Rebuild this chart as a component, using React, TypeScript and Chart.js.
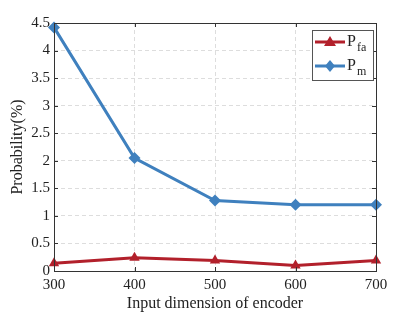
import React, { useEffect, useRef } from "react";
import { Chart, registerables } from "chart.js";

Chart.register(...registerables);

const categories = ["300", "400", "500", "600", "700"];
const pfaValues = [0.14, 0.24, 0.19, 0.1, 0.19];
const pmValues = [4.42, 2.05, 1.28, 1.2, 1.2];
const yTicks = [0, 0.5, 1, 1.5, 2, 2.5, 3, 3.5, 4, 4.5];

const RED = "#B2202B";
const BLUE = "#3F80BE";
const FONT = "'Liberation Serif', 'DejaVu Serif', serif";

const framePlugin = {
  id: "frame",
  afterDraw(chart: any) {
    const { ctx, chartArea: a, scales } = chart;
    ctx.save();
    ctx.strokeStyle = "#333333";
    ctx.lineWidth = 1;
    ctx.strokeRect(a.left + 0.5, a.top + 0.5, a.right - a.left, a.bottom - a.top);
    const tl = 4;
    ctx.beginPath();
    for (const v of yTicks) {
      const y = Math.round(scales.y.getPixelForValue(v)) + 0.5;
      ctx.moveTo(a.left, y);
      ctx.lineTo(a.left + tl, y);
      ctx.moveTo(a.right, y);
      ctx.lineTo(a.right - tl, y);
    }
    for (let i = 0; i < categories.length; i++) {
      const x = Math.round(scales.x.getPixelForValue(i)) + 0.5;
      ctx.moveTo(x, a.bottom);
      ctx.lineTo(x, a.bottom - tl);
      ctx.moveTo(x, a.top);
      ctx.lineTo(x, a.top + tl);
    }
    ctx.stroke();

    // legend
    const bx = 312, by = 30, bw = 61, bh = 50;
    ctx.fillStyle = "#ffffff";
    ctx.fillRect(bx, by, bw, bh);
    ctx.strokeStyle = "#555555";
    ctx.strokeRect(bx + 0.5, by + 0.5, bw, bh);
    const rows = [
      { color: RED, sub: "fa", style: "triangle", y: 42 },
      { color: BLUE, sub: "m", style: "diamond", y: 66 },
    ];
    for (const r of rows) {
      ctx.strokeStyle = r.color;
      ctx.lineWidth = 3;
      ctx.beginPath();
      ctx.moveTo(315, r.y);
      ctx.lineTo(345, r.y);
      ctx.stroke();
      ctx.fillStyle = r.color;
      ctx.beginPath();
      const cx = 330;
      if (r.style === "triangle") {
        ctx.moveTo(cx, r.y - 6);
        ctx.lineTo(cx + 6, r.y + 4);
        ctx.lineTo(cx - 6, r.y + 4);
      } else {
        ctx.moveTo(cx, r.y - 6);
        ctx.lineTo(cx + 5, r.y);
        ctx.lineTo(cx, r.y + 6);
        ctx.lineTo(cx - 5, r.y);
      }
      ctx.closePath();
      ctx.fill();
      ctx.fillStyle = "#222222";
      ctx.textBaseline = "alphabetic";
      ctx.textAlign = "left";
      ctx.font = `16px ${FONT}`;
      ctx.fillText("P", 347, r.y + 4);
      ctx.font = `12px ${FONT}`;
      ctx.fillText(r.sub, 357, r.y + 9);
    }
    ctx.restore();
  },
};

export default function App() {
  const ref = useRef<HTMLCanvasElement>(null);
  useEffect(() => {
    document.body.style.margin = "0";
    const chart = new Chart(ref.current!, {
      type: "line",
      data: {
        labels: categories,
        datasets: [
          {
            label: "Pfa",
            data: pfaValues,
            borderColor: RED,
            backgroundColor: RED,
            borderWidth: 3,
            pointStyle: "triangle",
            pointRadius: 6,
            pointBorderWidth: 0,
            tension: 0,
            clip: false as any,
          },
          {
            label: "Pm",
            data: pmValues,
            borderColor: BLUE,
            backgroundColor: BLUE,
            borderWidth: 3,
            pointStyle: "rectRot",
            pointRadius: 6,
            pointBorderWidth: 0,
            tension: 0,
            clip: false as any,
          },
        ],
      },
      options: {
        animation: false,
        responsive: false,
        layout: { padding: { left: 0, right: 39, top: 23, bottom: 0 } },
        plugins: { legend: { display: false }, tooltip: { enabled: false } },
        scales: {
          x: {
            type: "category",
            offset: false,
            grid: { color: "#dddddd", lineWidth: 1, drawTicks: false },
            border: { display: false, dash: [4, 3] },
            ticks: {
              color: "#222222",
              font: { family: FONT, size: 15 },
              padding: 5,
            },
            title: {
              display: true,
              text: "Input dimension of encoder",
              color: "#222222",
              font: { family: FONT, size: 16 },
              padding: { top: 0, bottom: 0 },
            },
            afterFit: (s: any) => {
              s.height = 42;
            },
          },
          y: {
            min: 0,
            max: 4.5,
            afterBuildTicks: (s: any) => {
              s.ticks = yTicks.map((v) => ({ value: v }));
            },
            grid: { color: "#dddddd", lineWidth: 1, drawTicks: false },
            border: { display: false, dash: [4, 3] },
            ticks: {
              color: "#222222",
              font: { family: FONT, size: 15 },
              padding: 4,
              callback: (v: any) => String(v),
            },
            title: {
              display: true,
              text: "Probability(%)",
              color: "#222222",
              font: { family: FONT, size: 16 },
              padding: { top: 8, bottom: 2 },
            },
            afterFit: (s: any) => {
              s.width = 54;
            },
          },
        },
      },
      plugins: [framePlugin],
    });
    return () => chart.destroy();
  }, []);
  return (
    <div style={{ width: 415, height: 313, background: "#fff" }}>
      <canvas ref={ref} width={415} height={313} />
    </div>
  );
}
